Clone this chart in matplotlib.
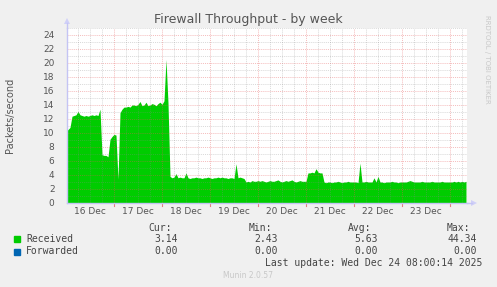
import matplotlib
matplotlib.use("Agg")
import matplotlib.pyplot as plt
import numpy as np

# ---- data (hourly samples, hours since 16 Dec 00:00) ----
day16 = [10.2, 10.5, 10.8, 12.4, 12.5, 12.6, 13.1, 12.6, 12.5, 12.4, 12.5, 12.4,
         12.5, 12.6, 12.5, 12.6, 12.5, 13.4, 6.9, 6.8, 6.8, 6.6, 9.1, 9.5]
day17 = [9.8, 9.7, 3.4, 12.9, 13.4, 13.7, 13.7, 13.8, 13.7, 14.0, 14.0, 13.9,
         14.1, 14.5, 13.9, 14.0, 14.4, 13.9, 14.0, 14.2, 14.1, 13.9, 14.2, 14.4]
day18 = [14.1, 14.6, 20.5, 14.3, 3.8, 3.6, 3.7, 4.2, 3.6, 3.7, 3.6, 3.6,
         4.3, 3.6, 3.5, 3.6, 3.6, 3.7, 3.6, 3.6, 3.5, 3.6, 3.6, 3.7]
day19 = [3.6, 3.5, 3.6, 3.6, 3.7, 3.6, 3.7, 3.6, 3.6, 3.5, 3.6, 3.6,
         3.5, 5.6, 3.6, 3.7, 3.6, 3.5, 3.0, 3.1, 3.0, 3.2, 3.1, 3.1]
day20 = [3.2, 3.1, 3.2, 3.1, 3.0, 3.1, 3.2, 3.1, 3.1, 3.2, 3.3, 3.1,
         3.0, 3.1, 3.2, 3.1, 3.2, 3.3, 3.1, 3.0, 3.1, 3.2, 3.1, 3.1]
day21 = [3.1, 4.3, 4.3, 4.4, 4.3, 4.9, 4.4, 4.3, 4.3, 3.0, 2.9, 3.0,
         3.0, 2.9, 3.0, 3.0, 3.1, 3.0, 2.9, 3.0, 3.0, 3.1, 3.0, 3.0]
day22 = [3.0, 3.0, 2.9, 5.7, 3.0, 3.0, 3.1, 3.0, 3.0, 3.0, 3.6, 3.0,
         3.8, 3.0, 3.0, 2.9, 3.0, 3.0, 3.0, 3.1, 3.0, 3.0, 2.9, 3.0]
day23 = [3.0, 3.0, 3.0, 3.1, 3.2, 3.1, 3.0, 3.0, 3.0, 3.0, 3.1, 3.0,
         3.0, 3.0, 3.0, 3.1, 3.0, 3.0, 3.0, 3.0, 3.1, 3.0, 3.0, 3.0]
day24 = [3.0, 3.0, 3.1, 3.0, 3.1, 3.0, 3.1, 3.0, 3.1]

received = day16 + day17 + day18 + day19 + day20 + day21 + day22 + day23 + day24
hours = np.arange(len(received))

day_labels = ["16 Dec", "17 Dec", "18 Dec", "19 Dec", "20 Dec", "21 Dec", "22 Dec", "23 Dec"]
y_ticks = list(range(0, 25, 2))

series_names = ["Received", "Forwarded"]
series_colors = ["#00CC00", "#0066B3"]
cur_vals = ["3.14", "0.00"]
min_vals = ["2.43", "0.00"]
avg_vals = ["5.63", "0.00"]
max_vals = ["44.34", "0.00"]

W, H = 497, 287
fig = plt.figure(figsize=(W / 100, H / 100), dpi=100, facecolor="#F0F0F0")
ax = fig.add_axes([67 / W, 1 - 203 / H, 400 / W, 175 / H])
ax.set_facecolor("white")
ax.set_xlim(0.5, 200.5)
ax.set_ylim(0, 25)

ax.fill_between(hours, 0, received, color=series_colors[0], lw=0, zorder=2)

# grid (drawn over the area, like rrdtool)
minor_c = (0.55, 0.55, 0.55, 0.45)
major_c = (0.90, 0.35, 0.35, 0.55)
dots = (0, (1.5, 1.5))
for y in range(1, 26):
    if y % 2 == 1:
        ax.axhline(y, color=minor_c, lw=0.5, ls=dots, zorder=3)
for y in y_ticks[1:]:
    ax.axhline(y, color=major_c, lw=0.5, ls=dots, zorder=3)
for h in range(6, 201, 6):
    if h % 24 != 0:
        ax.axvline(h, color=minor_c, lw=0.5, ls=dots, zorder=3)
for h in range(24, 201, 24):
    ax.axvline(h, color=major_c, lw=0.5, ls=dots, zorder=3)

# axes styling
for s in ax.spines.values():
    s.set_visible(False)
ax.set_xticks([])
ax.set_yticks(y_ticks)
ax.set_yticklabels([str(v) for v in y_ticks])
ax.tick_params(axis="y", length=0, pad=9, labelsize=6.5, labelcolor="#555555")

axc = "#C4C4F4"
ax.plot([0, 1.0], [0, 0], transform=ax.transAxes, color=axc, lw=1, clip_on=False, zorder=4)
ax.plot([0, 0], [0, 1.0], transform=ax.transAxes, color=axc, lw=1, clip_on=False, zorder=4)
ax.plot([0, 0], [1.0, 1.03], transform=ax.transAxes, color=axc, lw=1, clip_on=False, zorder=4)
ax.plot([1.0, 1.012], [0, 0], transform=ax.transAxes, color=axc, lw=1, clip_on=False, zorder=4)
ax.plot([0], [1.04], marker="^", ms=4, color="#D0D0F8", transform=ax.transAxes, clip_on=False, mew=0)
ax.plot([1.018], [0], marker=">", ms=4, color="#D0D0F8", transform=ax.transAxes, clip_on=False, mew=0)

# x labels at noon
for i, lab in enumerate(day_labels):
    ax.text(12 + 24 * i, -9 / 175, lab, transform=ax.get_xaxis_transform(),
            ha="center", va="center", fontsize=6.5, color="#555555")

# small red ticks at day boundaries below axis
for h in range(24, 201, 24):
    ax.plot([h, h], [0, -2.5 / 175], transform=ax.get_xaxis_transform(),
            color="#E08080", lw=0.8, clip_on=False)

def ft(x, y, s, **kw):
    fig.text(x / W, 1 - y / H, s, **kw)

ft(248, 19, "Firewall Throughput - by week", ha="center", va="center",
   fontsize=9, color="#555555")
ft(10, 115, "Packets/second", ha="center", va="center", rotation=90,
   fontsize=7, color="#555555")
ft(487, 15, "RRDTOOL / TOBI OETIKER", ha="center", va="top", rotation=270,
   fontsize=5, color="#C8C8C8")

mono = dict(family="DejaVu Sans Mono", fontsize=7, color="#444444", va="center")
ft(172, 228, "Cur:", ha="right", **mono)
ft(272, 228, "Min:", ha="right", **mono)
ft(371, 228, "Avg:", ha="right", **mono)
ft(470, 228, "Max:", ha="right", **mono)
rows_y = [239, 251.5]
for i, name in enumerate(series_names):
    y = rows_y[i]
    fig.patches.append(plt.Rectangle(((14) / W, 1 - (y + 3) / H), 6 / W, 6 / H,
                                     transform=fig.transFigure, color=series_colors[i]))
    ft(26, y, name, ha="left", **mono)
    ft(178, y, cur_vals[i], ha="right", **mono)
    ft(278, y, min_vals[i], ha="right", **mono)
    ft(378, y, avg_vals[i], ha="right", **mono)
    ft(477, y, max_vals[i], ha="right", **mono)
ft(482, 263.5, "Last update: Wed Dec 24 08:00:14 2025", ha="right", **mono)
ft(248, 276, "Munin 2.0.57", ha="center", va="center", fontsize=5.5, color="#C8C8C8")

fig.savefig("out.png", dpi=100, facecolor=fig.get_facecolor())
